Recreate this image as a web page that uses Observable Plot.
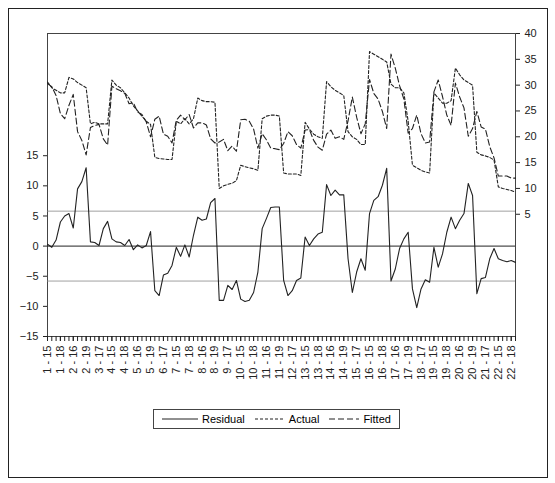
<!DOCTYPE html>
<html>
<head>
<meta charset="utf-8">
<script src="https://cdn.jsdelivr.net/npm/d3@7"></script>
<script src="https://cdn.jsdelivr.net/npm/@observablehq/plot@0.6"></script>
<style>
  body { margin: 0; background: #fff; font-family: "Liberation Sans", Arial, sans-serif; }
  #box { position: absolute; left: 8px; top: 8px; width: 538px; height: 468px; border: 1px solid #222; }
  #legend { position: absolute; left: 144px; top: 400px; border: 1px solid #444; padding: 3px 8px; font-size: 11px; display: flex; gap: 10px; align-items: center; }
  #legend span { display: flex; align-items: center; gap: 4px; }
</style>
</head>
<body>
<div id="box">
  <div id="chart"></div>
  <div id="legend">
    <span><svg width="36" height="6"><line x1="0" x2="36" y1="3" y2="3" stroke="#222" stroke-width="1.2"/></svg>Residual</span>
    <span><svg width="30" height="6"><line x1="0" x2="30" y1="3" y2="3" stroke="#222" stroke-width="1.2" stroke-dasharray="3,2"/></svg>Actual</span>
    <span><svg width="30" height="6"><line x1="0" x2="30" y1="3" y2="3" stroke="#222" stroke-width="1.2" stroke-dasharray="6,3"/></svg>Fitted</span>
  </div>
</div>
<script>
// panel: 22 units x years 15..19
const units = d3.range(1, 23)
const years = [15, 16, 17, 18, 19]

const residual = [
  0.3, -0.2, 1, 4, 5, 5.4, 3, 9.5, 10.7, 13,
  0.7, 0.6, 0.1, 2.9, 4.1, 1.2, 0.7, 0.6, 0.1, 1.1,
  -0.6, 0.2, -0.3, 0.1, 2.4, -7.4, -8.2, -4.8, -4.5, -3.2,
  -0.2, -1.7, 0.2, -1.8, 1.8, 4.8, 4.3, 4.5, 7.2, 7.9,
  -9, -9, -6.5, -7.2, -5.7, -8.8, -9.2, -9, -7.7, -4.3,
  2.9, 4.6, 6.4, 6.5, 6.5, -5.7, -8.2, -7.4, -5.7, -5.3,
  1.5, 0.1, 1.2, 2, 2.3, 10.2, 8.4, 9.3, 8.5, 8.5,
  -2.1, -7.7, -4.3, -2.1, -4, 5.4, 7.6, 8.2, 10.1, 12.9,
  -5.8, -3.8, -0.4, 1.2, 2.3, -7.1, -10.2, -7.1, -5.6, -6,
  -0.2, -3.5, -1.3, 2.3, 4.8, 2.9, 4.3, 5.4, 10.4, 8.4,
  -7.9, -5.4, -5.2, -2.1, -0.4, -2.1, -2.4, -2.6, -2.4, -2.7
]
const actual = [
  30.6, 29.5, 29, 28.5, 28.5, 31.5, 31.2, 30.5, 30, 29.5,
  22.5, 22.8, 22.5, 22.5, 22.5, 31, 30, 29.5, 28.5, 27.5,
  26, 25, 24, 23, 22.4, 16, 15.8, 15.7, 15.6, 15.6,
  23, 22.5, 23.5, 22.5, 23.5, 27.5, 27, 26.8, 26.8, 26.7,
  10, 10.5, 10.8, 11, 11.5, 14.5, 14.2, 14, 13.8, 13.5,
  23.5, 24, 24.2, 24.2, 24, 13, 12.8, 12.8, 12.8, 12.5,
  22.8, 21.5, 20.5, 20, 19.7, 30.7, 29.7, 29, 28.5, 28,
  21, 20, 19.5, 18.5, 18.5, 36.5, 36, 35.5, 35, 34.5,
  30.2, 29.5, 29.5, 28.5, 23, 14.5, 14, 13.5, 13.2, 13,
  28.5, 27.5, 26.5, 26.5, 27, 33.3, 32, 31, 30.5, 30,
  17, 16.5, 16.3, 16, 15.5, 10.3, 10, 9.8, 9.6, 9.3
]
const fitted = [
  30.3, 29.7, 28, 24.5, 23.5, 26.1, 28.2, 21, 19.3, 16.5,
  21.8, 22.2, 22.4, 19.6, 18.4, 29.8, 29.3, 28.9, 28.4, 26.4,
  26.6, 24.8, 24.3, 22.9, 20, 23.4, 24, 20.5, 20.1, 18.8,
  23.2, 24.2, 23.3, 24.3, 21.7, 22.7, 22.7, 22.3, 19.6, 18.8,
  19, 19.5, 17.3, 18.2, 17.2, 23.3, 23.4, 23, 21.5, 17.8,
  20.6, 19.4, 17.8, 17.7, 17.5, 18.7, 21, 20.2, 18.5, 17.8,
  21.3, 21.4, 19.3, 18, 17.4, 20.5, 21.3, 19.7, 20, 19.5,
  23.1, 27.7, 23.8, 20.6, 22.5, 31.1, 28.4, 27.3, 24.9, 21.6,
  36, 33.3, 29.9, 27.3, 20.7, 21.6, 24.2, 20.6, 18.8, 19,
  28.7, 31, 27.8, 24.2, 22.2, 30.4, 27.7, 25.6, 20.1, 21.6,
  24.9, 21.9, 21.5, 18.1, 15.9, 12.4, 12.4, 12.4, 12, 12
]
const leftTicks = [-15, -10, -5, 0, 5, 10, 15]
const rightTicks = [5, 10, 15, 20, 25, 30, 35, 40]
const band = 5.8

const labels = units.flatMap(u => years.map(y => `${u} - ${y}`))
const idx = d3.range(labels.length)
// right axis (actual/fitted) drawn in residual units
const toR = v => 1 + 0.857 * v
const data = idx.map(i => ({i, r: residual[i], a: toR(actual[i]), f: toR(fitted[i])}))

const chart = Plot.plot({
  width: 538,
  height: 390,
  marginLeft: 38,
  marginRight: 32,
  marginTop: 24,
  marginBottom: 63,
  style: {fontFamily: "'Liberation Sans', Arial, sans-serif", fontSize: "11px", color: "#222"},
  x: {domain: [0, labels.length - 1], axis: null},
  y: {domain: [-15, toR(40)], axis: null},
  marks: [
    Plot.frame({stroke: "#444"}),
    Plot.ruleY([-band, band], {stroke: "#888", strokeWidth: 0.8}),
    Plot.ruleY([0], {stroke: "#222", strokeWidth: 1}),
    Plot.lineY(data, {x: "i", y: "a", stroke: "#222", strokeWidth: 1.1, strokeDasharray: "3,2"}),
    Plot.lineY(data, {x: "i", y: "f", stroke: "#222", strokeWidth: 1.1, strokeDasharray: "6,3"}),
    Plot.lineY(data, {x: "i", y: "r", stroke: "#222", strokeWidth: 1.1}),
    Plot.axisY({anchor: "left", ticks: leftTicks, tickSize: 4, label: null}),
    Plot.axisY({anchor: "right", ticks: rightTicks.map(toR), tickFormat: (d, k) => rightTicks[k], tickSize: 4, label: null}),
    Plot.axisX({ticks: idx, tickSize: 5, tickFormat: () => "", label: null}),
    Plot.axisX({ticks: idx.filter(i => i % 3 === 0), tickSize: 5, tickRotate: -90, tickFormat: i => labels[i], label: null})
  ]
})
document.querySelector("#chart").append(chart)
</script>
</body>
</html>
